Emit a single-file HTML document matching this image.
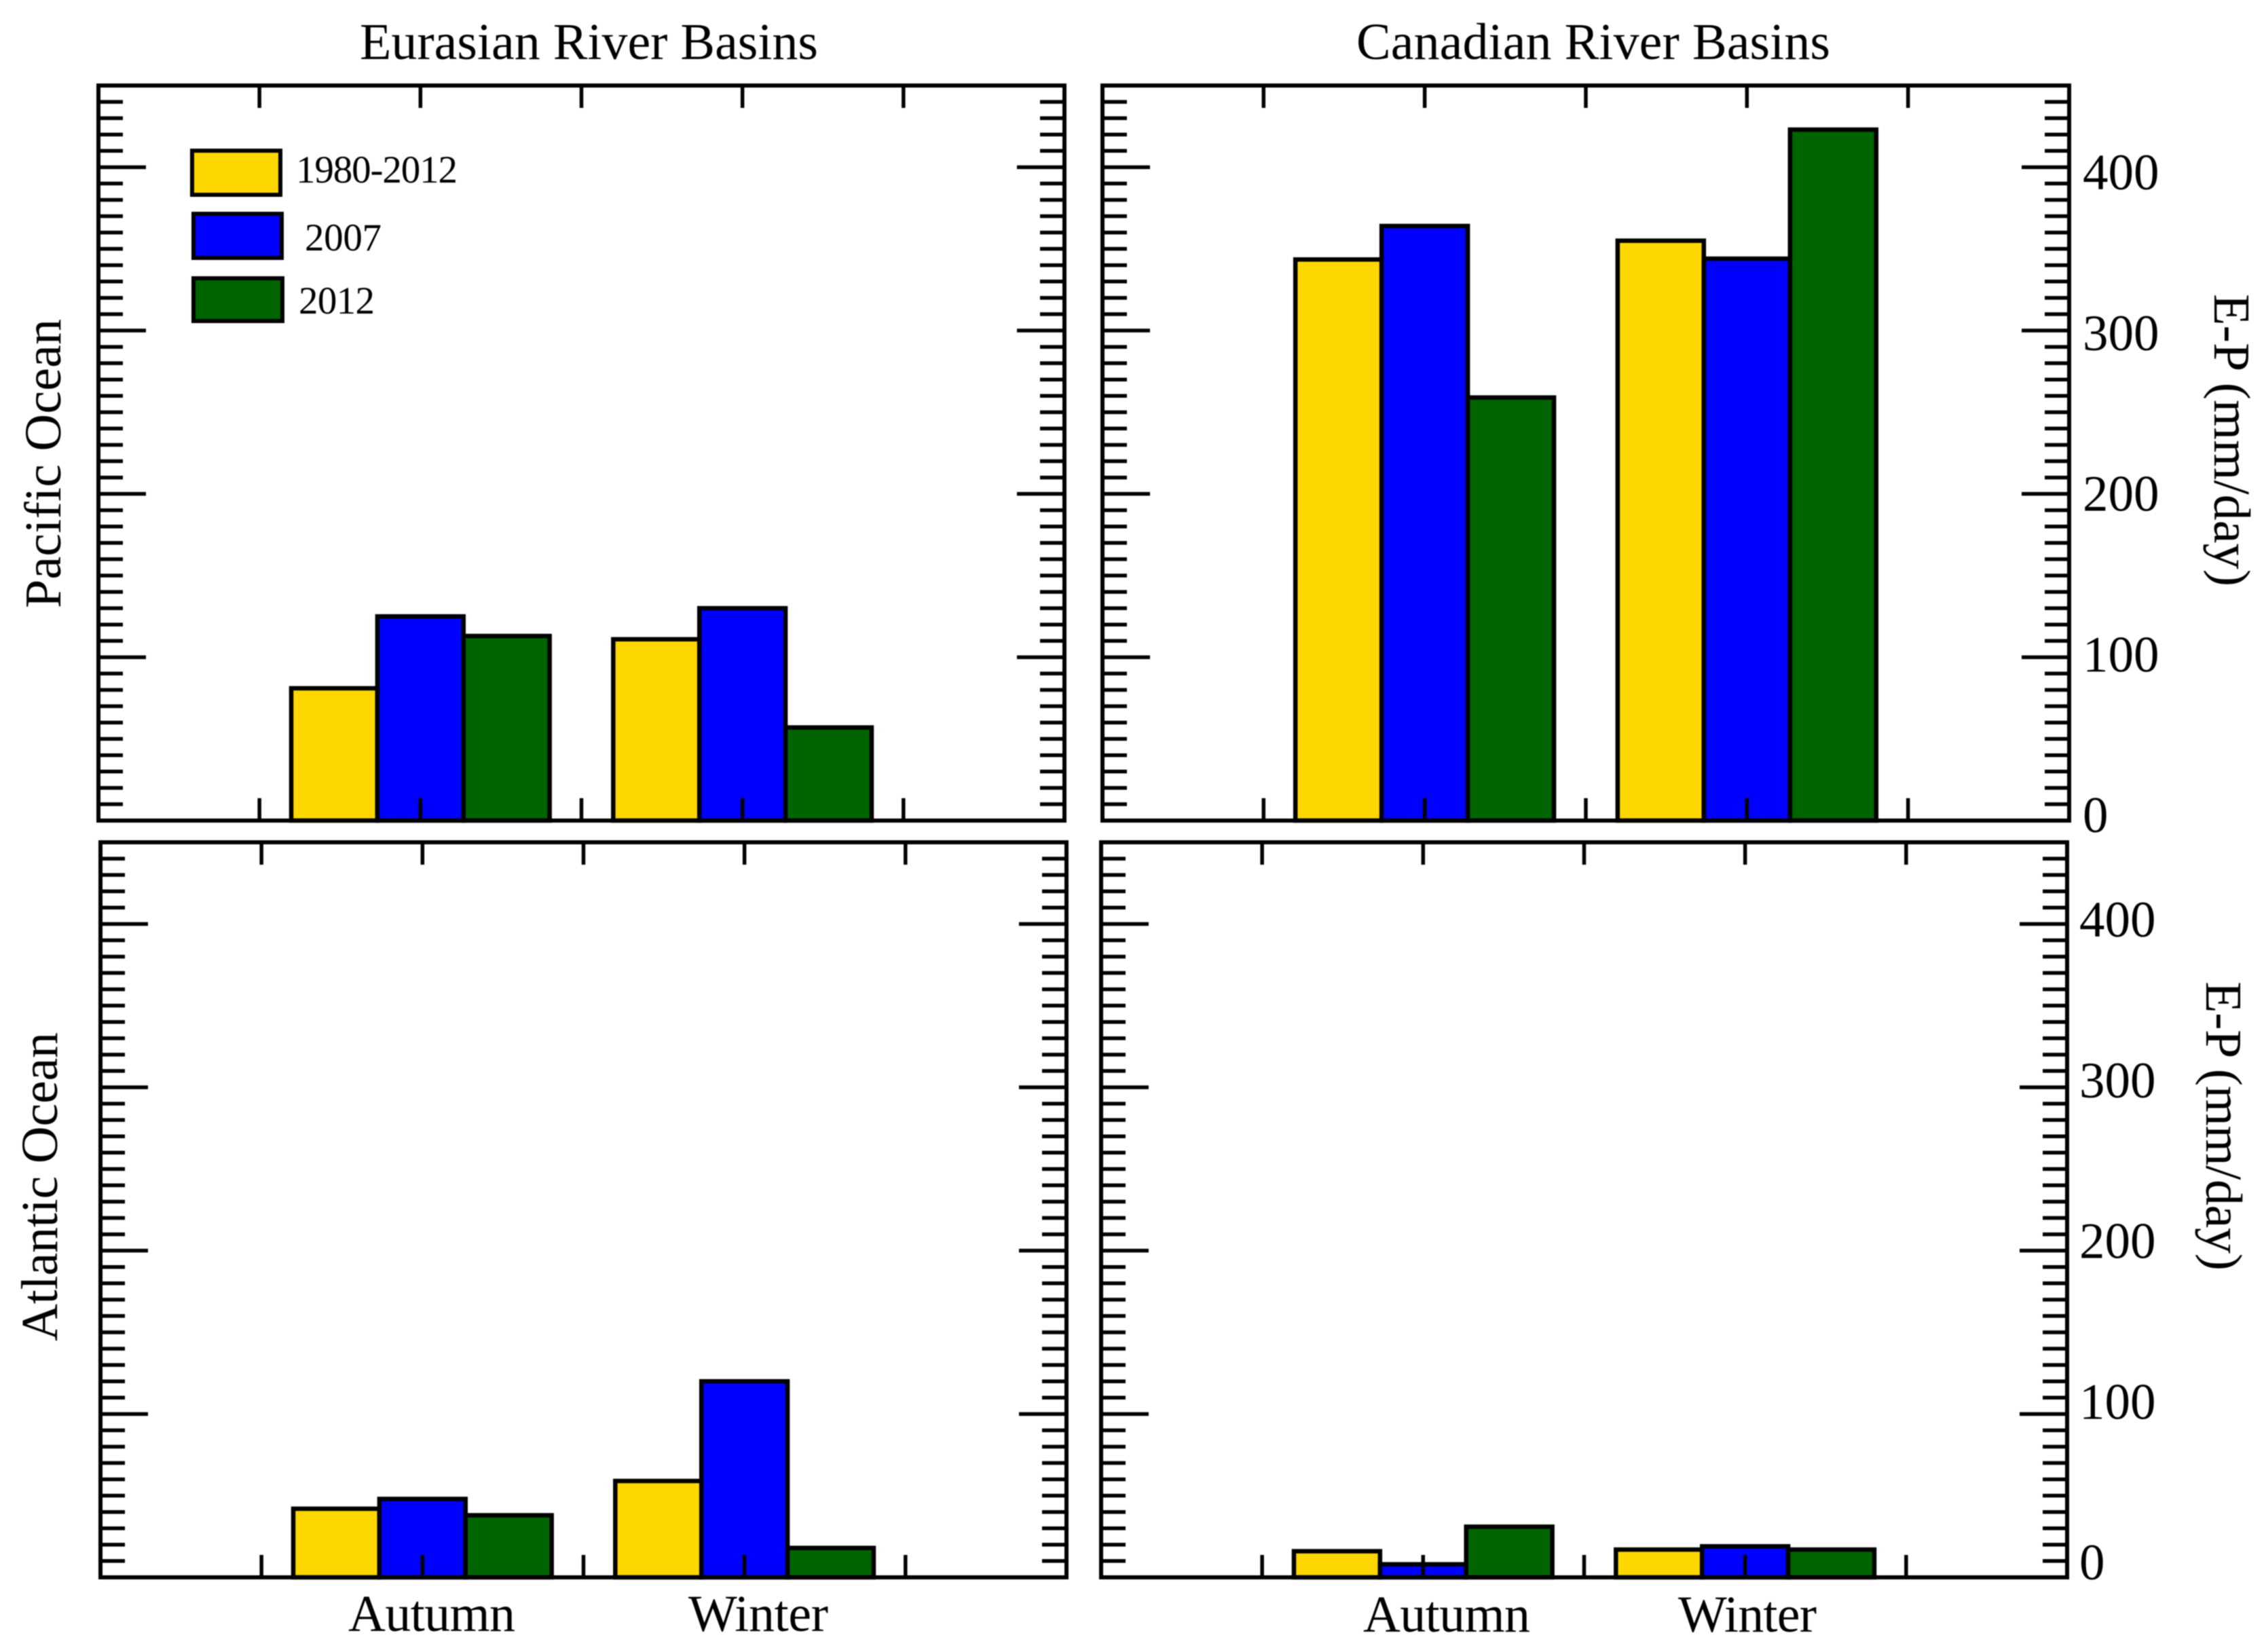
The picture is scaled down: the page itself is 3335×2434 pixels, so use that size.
<!DOCTYPE html>
<html lang="en">
<head>
<meta charset="utf-8">
<title>E-P by river basin and ocean</title>
<style>
html,body{margin:0;padding:0;background:#fff;}
body{width:3335px;height:2434px;overflow:hidden;}
svg{display:block;filter:blur(0.7px);}
text{font-family:"Liberation Serif",serif;fill:#000;}
</style>
</head>
<body>
<svg id="chart" xmlns="http://www.w3.org/2000/svg" width="3335" height="2434" viewBox="0 0 3335 2434">
  <text x="530" y="87" font-size="76" textLength="675" lengthAdjust="spacing">Eurasian River Basins</text>
  <text x="1998" y="87" font-size="76" textLength="698" lengthAdjust="spacing">Canadian River Basins</text>
  <text transform="translate(89,896) rotate(-90)" font-size="76" textLength="426" lengthAdjust="spacing">Pacific Ocean</text>
  <text transform="translate(84,1976) rotate(-90)" font-size="76" textLength="455" lengthAdjust="spacing">Atlantic Ocean</text>
  <text transform="translate(3262,433) rotate(90)" font-size="76" textLength="431" lengthAdjust="spacing">E-P (mm/day)</text>
  <text transform="translate(3250,1446) rotate(90)" font-size="76" textLength="426" lengthAdjust="spacing">E-P (mm/day)</text>
  <text x="513" y="2403" font-size="76" textLength="246" lengthAdjust="spacing">Autumn</text>
  <text x="1014" y="2403" font-size="76" textLength="206" lengthAdjust="spacing">Winter</text>
  <text x="2008" y="2404" font-size="76" textLength="246" lengthAdjust="spacing">Autumn</text>
  <text x="2472" y="2404" font-size="76" textLength="204" lengthAdjust="spacing">Winter</text>
  <g id="panels"></g>
  <g>
    <rect x="283" y="222" width="130" height="65" fill="#FFD700" stroke="#000" stroke-width="6"/>
    <text x="436" y="269" font-size="57" textLength="238" lengthAdjust="spacing">1980-2012</text>
    <rect x="285" y="315" width="130" height="65" fill="#0000FF" stroke="#000" stroke-width="6"/>
    <text x="449" y="369" font-size="57" textLength="113" lengthAdjust="spacing">2007</text>
    <rect x="285" y="410" width="131" height="63" fill="#006400" stroke="#000" stroke-width="6"/>
    <text x="440" y="462" font-size="57" textLength="112" lengthAdjust="spacing">2012</text>
  </g>
</svg>
<script>
// Chart data
const categories = ['Autumn', 'Winter'];
const categoryPositions = [2, 4];
const seriesNames = ['1980-2012', '2007', '2012'];
const seriesColors = ['#FFD700', '#0000FF', '#006400'];

const eurasianPacific1980to2012 = [81, 111];
const eurasianPacific2007 = [125, 130];
const eurasianPacific2012 = [113, 57];

const canadianPacific1980to2012 = [343.5, 355];
const canadianPacific2007 = [364, 344];
const canadianPacific2012 = [259, 423];

const eurasianAtlantic1980to2012 = [42, 59];
const eurasianAtlantic2007 = [48, 120];
const eurasianAtlantic2012 = [38, 18];

const canadianAtlantic1980to2012 = [16, 17];
const canadianAtlantic2007 = [8, 19];
const canadianAtlantic2012 = [31, 17];

const yMajorTicks = [0, 100, 200, 300, 400];
const yTickLabels = ['0', '100', '200', '300', '400'];
const xTicks = [1, 2, 3, 4, 5];

const Y_MAX = 450;
const Y_MINOR_STEP = 10;
const X_MAX = 6;
const BAR_WIDTH = 0.535;
const SVG_NS = 'http://www.w3.org/2000/svg';
const root = document.getElementById('panels');

const panels = [
  { id: 'pacific-eurasian', left: 145, right: 1568, top: 126, bottom: 1209, series: [eurasianPacific1980to2012, eurasianPacific2007, eurasianPacific2012], labelled: false },
  { id: 'pacific-canadian', left: 1624, right: 3048, top: 126, bottom: 1209, series: [canadianPacific1980to2012, canadianPacific2007, canadianPacific2012], labelled: true, labelX: 3068, labelZero: 1226 },
  { id: 'atlantic-eurasian', left: 148, right: 1571, top: 1241, bottom: 2324, series: [eurasianAtlantic1980to2012, eurasianAtlantic2007, eurasianAtlantic2012], labelled: false },
  { id: 'atlantic-canadian', left: 1622, right: 3045, top: 1241, bottom: 2324, series: [canadianAtlantic1980to2012, canadianAtlantic2007, canadianAtlantic2012], labelled: true, labelX: 3063, labelZero: 2327 }
];

function xScale(panel, value) {
  return panel.left + (value / X_MAX) * (panel.right - panel.left);
}
function yScale(panel, value) {
  return panel.bottom - (value / Y_MAX) * (panel.bottom - panel.top);
}
function labelBaseline(panel, value) {
  return panel.labelZero - value * 2.3675;
}
function addLine(parent, x1, y1, x2, y2, width) {
  const el = document.createElementNS(SVG_NS, 'line');
  el.setAttribute('x1', x1);
  el.setAttribute('y1', y1);
  el.setAttribute('x2', x2);
  el.setAttribute('y2', y2);
  el.setAttribute('stroke', '#000');
  el.setAttribute('stroke-width', width);
  parent.appendChild(el);
  return el;
}

panels.forEach(function (panel) {
  const group = document.createElementNS(SVG_NS, 'g');
  
  
  root.appendChild(group);

  // Bars
  panel.series.forEach(function (values, s) {
    values.forEach(function (value, c) {
      const x0 = xScale(panel, categoryPositions[c] + (s - 1.5) * BAR_WIDTH);
      const x1 = xScale(panel, categoryPositions[c] + (s - 0.5) * BAR_WIDTH);
      const bar = document.createElementNS(SVG_NS, 'rect');
      
      
      bar.setAttribute('x', x0);
      bar.setAttribute('y', yScale(panel, value));
      bar.setAttribute('width', x1 - x0);
      bar.setAttribute('height', yScale(panel, 0) - yScale(panel, value));
      bar.setAttribute('fill', seriesColors[s]);
      bar.setAttribute('stroke', '#000');
      bar.setAttribute('stroke-width', 6.5);
      group.appendChild(bar);
    });
  });

  // Minor and major y ticks on both sides
  const yTickGroup = document.createElementNS(SVG_NS, 'g');
  
  
  group.appendChild(yTickGroup);
  for (let v = Y_MINOR_STEP; v < Y_MAX; v += Y_MINOR_STEP) {
    const isMajor = yMajorTicks.indexOf(v) !== -1;
    const len = isMajor ? 70 : 36;
    const y = yScale(panel, v);
    addLine(yTickGroup, panel.left, y, panel.left + len, y, 5.5);
    addLine(yTickGroup, panel.right, y, panel.right - len, y, 5.5);
  }

  // X ticks on top and bottom
  const xTickGroup = document.createElementNS(SVG_NS, 'g');
  
  
  group.appendChild(xTickGroup);
  xTicks.forEach(function (t) {
    const x = xScale(panel, t);
    addLine(xTickGroup, x, panel.top, x, panel.top + 33, 5.5);
    addLine(xTickGroup, x, panel.bottom, x, panel.bottom - 33, 5.5);
  });

  // Frame
  const frame = document.createElementNS(SVG_NS, 'rect');
  
  
  frame.setAttribute('x', panel.left);
  frame.setAttribute('y', panel.top);
  frame.setAttribute('width', panel.right - panel.left);
  frame.setAttribute('height', panel.bottom - panel.top);
  frame.setAttribute('fill', 'none');
  frame.setAttribute('stroke', '#000');
  frame.setAttribute('stroke-width', 6);
  group.appendChild(frame);

  // Right-hand tick labels
  if (panel.labelled) {
    yMajorTicks.forEach(function (v, i) {
      const label = document.createElementNS(SVG_NS, 'text');
      
      
      label.setAttribute('x', panel.labelX);
      label.setAttribute('y', labelBaseline(panel, v));
      label.setAttribute('font-size', 75);
      label.textContent = yTickLabels[i];
      group.appendChild(label);
    });
  }
});
</script>
</body>
</html>
